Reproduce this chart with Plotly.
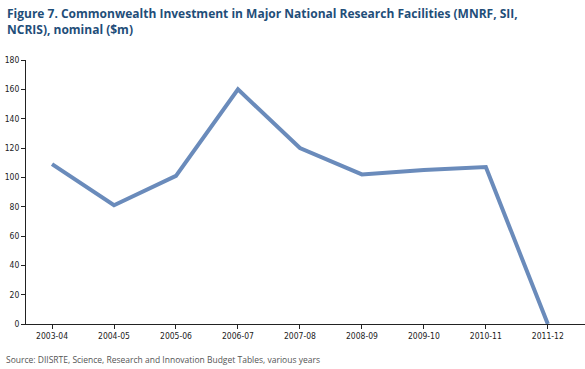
import plotly.graph_objects as go

years = ["2003-04", "2004-05", "2005-06", "2006-07", "2007-08", "2008-09", "2009-10", "2010-11", "2011-12"]
investment = [109, 81, 101, 160, 120, 102, 105, 107, 0]
y_ticks = [0, 20, 40, 60, 80, 100, 120, 140, 160, 180]

narrow = "Liberation Sans Narrow, DejaVu Sans Condensed, Arial Narrow, sans-serif"

fig = go.Figure()
fig.add_trace(go.Scatter(x=years, y=investment, mode="lines",
                         line=dict(color="#6a8bbb", width=4), hoverinfo="skip"))

fig.update_layout(
    width=585, height=369,
    margin=dict(l=26, r=0, t=60, b=45),
    paper_bgcolor="white", plot_bgcolor="white",
    showlegend=False,
    xaxis=dict(type="category", range=[-0.42, 8.6], showgrid=False, showline=True,
               linecolor="#222", linewidth=1, ticks="outside", ticklen=4, tickcolor="#222",
               tickfont=dict(family=narrow, size=8.5, color="#222")),
    yaxis=dict(range=[0, 180], tickvals=y_ticks, showgrid=False, showline=True,
               linecolor="#222", linewidth=1, ticks="outside", ticklen=4, tickcolor="#222",
               zeroline=False,
               tickfont=dict(family=narrow, size=8.5, color="#222")),
    annotations=[
        dict(text="<b>Figure 7. Commonwealth Investment in Major National Research Facilities (MNRF, SII,<br>NCRIS), nominal ($m)</b>",
             xref="paper", yref="paper", x=-21/559, y=1 + 57/264, xanchor="left", yanchor="top",
             align="left", showarrow=False,
             font=dict(family="Open Sans, sans-serif", size=12, color="#1f4e79")),
        dict(text="Source: DIISRTE, Science, Research and Innovation Budget Tables, various years",
             xref="paper", yref="paper", x=-22/559, y=-28/264, xanchor="left", yanchor="top",
             align="left", showarrow=False,
             font=dict(family="Open Sans, sans-serif", size=8.5, color="#555")),
    ],
)

fig.write_html("out.html", config={"displayModeBar": False, "staticPlot": True},
               post_script="document.body.style.margin='0';document.body.style.overflow='hidden';")
